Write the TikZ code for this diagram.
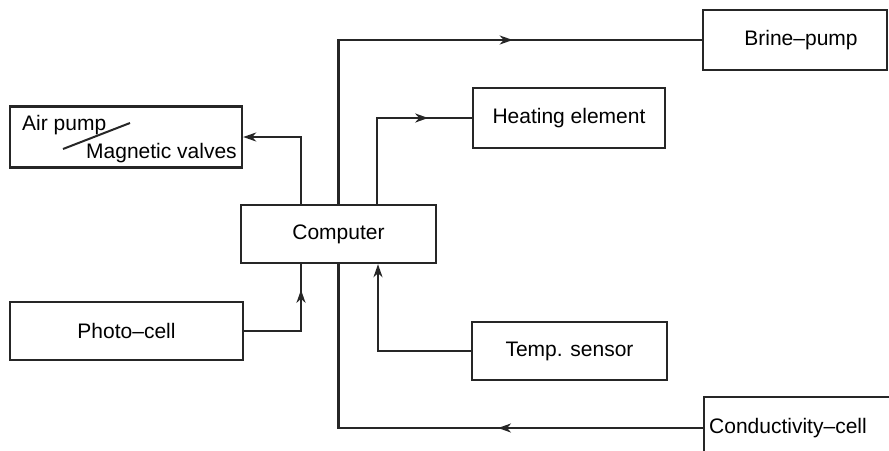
\documentclass[tikz,border=0pt]{standalone}
\usepackage{fontspec}
\setmainfont{Liberation Sans}
\usetikzlibrary{arrows.meta,decorations.markings}
\tikzset{
  blk/.style={draw=black!85, line width=2.4pt, inner sep=0pt, font=\fontsize{21}{24}\selectfont},
  conn/.style={draw=black!85, line width=2.1pt},
  tip/.style={-{Stealth[length=13pt,width=9pt,inset=4pt]}},
  midtip/.style={postaction={decorate}, decoration={markings, mark=at position #1 with {\arrow{Stealth[length=13pt,width=9pt,inset=4pt]}}}},
  txt/.style={inner sep=0pt, font=\fontsize{21}{24}\selectfont}
}
\begin{document}
\begin{tikzpicture}[x=1pt,y=-1pt]
\useasboundingbox (0,0) rectangle (889,450);
\clip (0,0) rectangle (889,450);
% boxes
\node[blk, minimum width=232pt, minimum height=61pt] (air) at (126,137) {};
\node[txt, anchor=base west] (airtxt) at (22,130) {Air pump};
\node[txt, anchor=base west] (magtxt) at (86,158) {Magnetic valves};
\draw[line width=2pt, draw=black!85] (63,149) -- (130,123);
\node[blk, minimum width=195pt, minimum height=58pt] (comp) at (338.5,234) {Computer};
\node[blk, minimum width=233pt, minimum height=58pt] (photo) at (126.5,331) {Photo–cell};
\node[blk, minimum width=192pt, minimum height=60pt] (heat) at (569,118) {Heating element};
\node[blk, minimum width=184pt, minimum height=60pt] (brine) at (795,40) {\hspace*{12pt}Brine–pump};
\node[blk, minimum width=195pt, minimum height=58pt] (temp) at (569.5,351) {Temp. sensor};
\node[blk, minimum height=62pt, text width=190pt, align=left, inner xsep=5pt, anchor=west] (cond) at (703,428) {Conductivity–cell};
% connectors
\draw[conn, tip] ([xshift=-37.5pt]comp.north) |- (air.east);
\draw[conn, midtip=338pt] (comp.north) |- (brine.west);
\draw[conn, midtip=137pt] ([xshift=38.5pt]comp.north) |- (heat.west);
\draw[conn, midtip=98pt] (photo.east) -| ([xshift=-37.5pt]comp.south);
\draw[conn, tip] (temp.west) -| ([xshift=39.5pt]comp.south);
\draw[conn, midtip=205pt] (cond.west) -| (comp.south);
\end{tikzpicture}
\end{document}
